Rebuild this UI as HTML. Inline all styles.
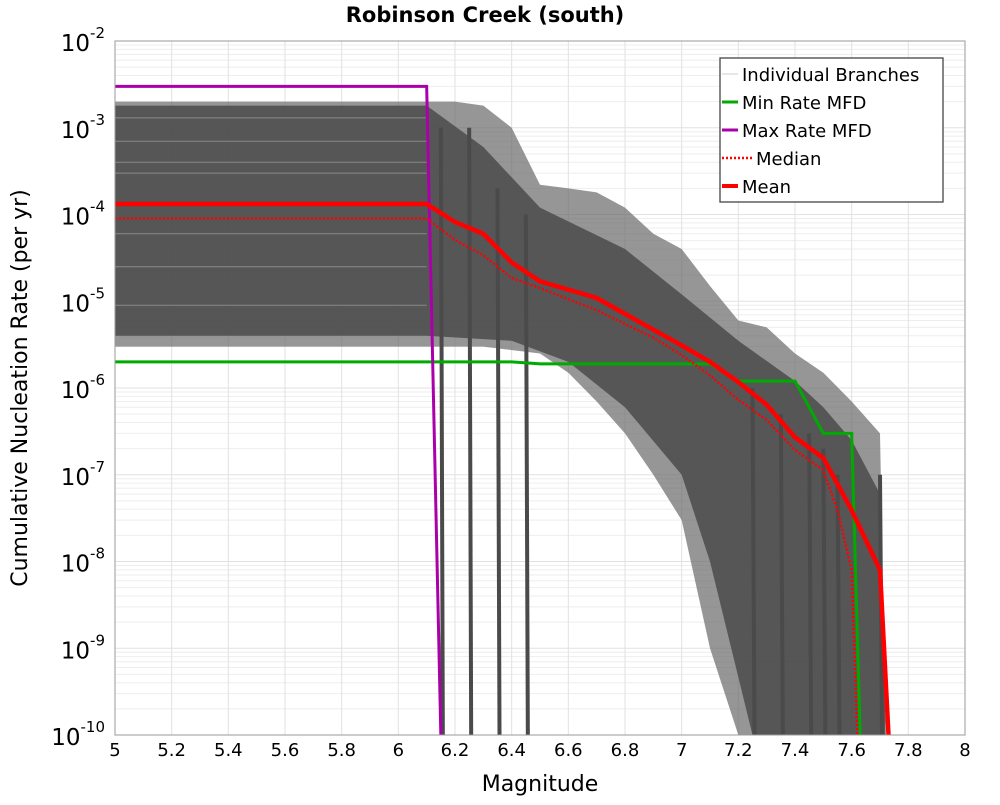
<!DOCTYPE html>
<html><head><meta charset="utf-8"><style>
body{margin:0;background:#fff;}
svg text{font-family:"DejaVu Sans","Liberation Sans",sans-serif;}
</style></head><body>
<svg id="chart" width="1000" height="800" xmlns="http://www.w3.org/2000/svg">
<text x="485" y="22" font-size="21" font-weight="bold" text-anchor="middle">Robinson Creek (south)</text>
<text x="540" y="791" font-size="22" text-anchor="middle">Magnitude</text>
<text transform="translate(27,388) rotate(-90)" font-size="22" text-anchor="middle">Cumulative Nucleation Rate (per yr)</text>
<g id="grid"></g><g id="band"></g><g id="series"></g><g id="axes"></g>
<g>
<rect x="720" y="58" width="223" height="144" fill="#fff" stroke="#444" stroke-width="1.3"/>
<line x1="722" y1="74" x2="738" y2="74" stroke="#ccc" stroke-width="1"/>
<text x="742" y="81" font-size="18">Individual Branches</text>
<line x1="722" y1="102" x2="738" y2="102" stroke="#00aa00" stroke-width="3"/>
<text x="742" y="109" font-size="18">Min Rate MFD</text>
<line x1="722" y1="130" x2="738" y2="130" stroke="#aa00aa" stroke-width="3"/>
<text x="742" y="137" font-size="18">Max Rate MFD</text>
<line x1="722" y1="158" x2="752" y2="158" stroke="#f00" stroke-width="2.5" stroke-dasharray="2,2"/>
<text x="756" y="165" font-size="18">Median</text>
<line x1="722" y1="186" x2="738" y2="186" stroke="#f00" stroke-width="4"/>
<text x="742" y="193" font-size="18">Mean</text>
</g>
</svg>
<script>
const xTicks=[5,5.2,5.4,5.6,5.8,6,6.2,6.4,6.6,6.8,7,7.2,7.4,7.6,7.8,8];
const yExps=[-2,-3,-4,-5,-6,-7,-8,-9,-10];
const meanM=[5,6.1,6.2,6.3,6.4,6.5,6.7,6.9,7.0,7.1,7.2,7.3,7.4,7.5,7.6,7.7,7.73];
const meanR=[1.32e-4,1.32e-4,8.2e-5,6e-5,2.8e-5,1.7e-5,1.09e-5,4.7e-6,3.1e-6,2e-6,1.17e-6,6.4e-7,2.7e-7,1.56e-7,3.9e-8,8e-9,1e-10];
const medM=[5,6.1,6.2,6.3,6.4,6.5,6.7,6.9,7.0,7.1,7.2,7.3,7.4,7.5,7.55,7.6,7.62];
const medR=[9e-5,9e-5,5.1e-5,3.4e-5,1.85e-5,1.42e-5,7.9e-6,3.8e-6,2.4e-6,1.4e-6,7.3e-7,4.3e-7,1.93e-7,1.13e-7,3.9e-8,8e-9,1e-10];
const minM=[5,6.4,6.5,7.1,7.2,7.4,7.5,7.6,7.63];
const minR=[2e-6,2e-6,1.9e-6,1.9e-6,1.2e-6,1.2e-6,3e-7,3e-7,1e-10];
const maxM=[5,6.1,6.15];
const maxR=[3e-3,3e-3,1e-10];
const bandUpM=[5,6.1,6.2,6.3,6.4,6.5,6.6,6.7,6.8,6.9,7.0,7.1,7.2,7.3,7.4,7.5,7.6,7.7,7.72];
const bandUpR=[2e-3,2e-3,2e-3,1.8e-3,1e-3,2.2e-4,2e-4,1.8e-4,1.2e-4,6e-5,4e-5,1.5e-5,6e-6,5e-6,2.5e-6,1.5e-6,7e-7,3e-7,1e-10];
const bandLoM=[7.2,7.1,7.0,6.9,6.8,6.7,6.6,6.5,6.3,6.1,5];
const bandLoR=[1e-10,1e-9,3e-8,1e-7,3e-7,7e-7,1.5e-6,2.5e-6,3e-6,3e-6,3e-6];
const innerUpM=[5,6.1,6.3,6.5,6.8,7.0,7.2,7.4,7.5,7.6,7.7,7.72];
const innerUpR=[1.8e-3,1.8e-3,6e-4,1.2e-4,4e-5,1.2e-5,3.5e-6,1.2e-6,6e-7,2.5e-7,6e-8,1e-10];
const innerLoM=[7.25,7.1,7.0,6.8,6.6,6.4,6.1,5];
const innerLoR=[1e-10,1e-8,1e-7,6e-7,2e-6,3.5e-6,4e-6,4e-6];
const dropM=[6.15,6.25,6.35,6.45,7.25,7.35,7.45,7.5,7.55,7.7];
const dropTopR=[1e-3,1e-3,2e-4,1e-4,1e-6,5e-7,3e-7,2e-7,1e-7,1e-7];
const leftLevels=[1.3e-3,7e-4,4e-4,3e-4,6e-5,2.5e-5,9e-6];

const NS='http://www.w3.org/2000/svg';
const X0=115,X1=965,Y0=41,Y1=735;
const xs=m=>X0+(m-5)/3*(X1-X0);
const ys=r=>Y0+(-2-Math.log10(r))/8*(Y1-Y0);
function mk(p,tag,at){const e=document.createElementNS(NS,tag);for(const k in at)e.setAttribute(k,at[k]);p.appendChild(e);return e;}
const grid=document.getElementById('grid'),band=document.getElementById('band'),ser=document.getElementById('series'),axes=document.getElementById('axes');
for(let e=-10;e<-2;e++)for(let k=2;k<10;k++){const y=ys(k*Math.pow(10,e));const l=mk(grid,'line',{x1:X0,x2:X1,y1:y,y2:y,stroke:'#eeeeee','stroke-width':1});

}
yExps.forEach(e=>{const y=ys(Math.pow(10,e));const l=mk(grid,'line',{x1:X0,x2:X1,y1:y,y2:y,stroke:'#e2e2e2','stroke-width':1});


const t=mk(axes,'text',{x:X0-10,y:y+10,'font-size':23,'text-anchor':'end'});t.textContent='10';


const s=mk(t,'tspan',{dy:-13,'font-size':15});s.textContent=String(e);});
xTicks.forEach(m=>{const x=xs(m);const l=mk(grid,'line',{x1:x,x2:x,y1:Y0,y2:Y1,stroke:'#e2e2e2','stroke-width':1});


const t=mk(axes,'text',{x:x,y:756,'font-size':18,'text-anchor':'middle'});t.textContent=String(m);

});
const fr=mk(axes,'rect',{x:X0,y:Y0,width:X1-X0,height:Y1-Y0,fill:'none',stroke:'#999','stroke-width':1});


function pts(M,R){return M.map((m,i)=>xs(m)+','+ys(R[i])).join(' ');}
const outer=mk(band,'polygon',{points:pts(bandUpM,bandUpR)+' '+pts(bandLoM,bandLoR),fill:'#6a6a6a','fill-opacity':0.7});


const inner=mk(band,'polygon',{points:pts(innerUpM,innerUpR)+' '+pts(innerLoM,innerLoR),fill:'#4f4f4f','fill-opacity':0.9});


leftLevels.forEach(r=>{const l=mk(band,'line',{x1:X0,x2:xs(6.1),y1:ys(r),y2:ys(r),stroke:'#8a8a8a','stroke-width':1});

});
dropM.forEach((m,i)=>{const l=mk(band,'line',{x1:xs(m),x2:xs(m)+2,y1:ys(dropTopR[i]),y2:Y1,stroke:'#4a4a4a','stroke-width':4});

});
function line(M,R,st,name){const p=mk(ser,'polyline',Object.assign({points:pts(M,R),fill:'none'},st));

}
line(minM,minR,{stroke:'#00aa00','stroke-width':3},'min-rate-mfd');
line(maxM,maxR,{stroke:'#aa00aa','stroke-width':3},'max-rate-mfd');
line(medM,medR,{stroke:'#f00','stroke-width':2.5,'stroke-dasharray':'2,2'},'median-line');
line(meanM,meanR,{stroke:'#f00','stroke-width':4.5},'mean-line');
</script>
</body></html>
